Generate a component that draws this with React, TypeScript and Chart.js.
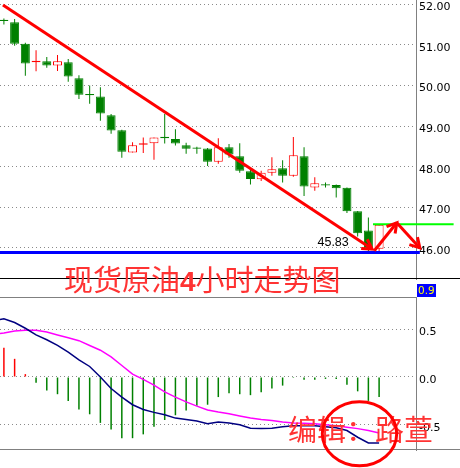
import React, { useEffect, useRef } from "react";
import { Chart, registerables } from "chart.js";

Chart.register(...registerables);

// ---------------- data ----------------
const OPEN = [51.62, 51.56, 51.03, 50.57, 50.60, 50.49, 50.57, 50.18, 49.79, 49.73, 49.27, 48.90, 48.35, 48.54, 48.58, 48.74, 48.68, 48.53, 48.47, 48.45, 48.12, 48.48, 48.26, 47.89, 47.69, 47.85, 47.96, 47.78, 48.26, 47.49, 47.57, 47.55, 47.48, 46.90, 46.43, 45.98];
const HIGH = [51.65, 51.64, 51.05, 50.87, 50.70, 50.75, 50.65, 50.25, 50.00, 49.96, 49.30, 48.91, 48.60, 48.72, 48.72, 49.30, 48.92, 48.59, 48.49, 48.46, 48.70, 48.56, 48.58, 47.95, 47.90, 48.23, 48.16, 48.73, 48.48, 47.74, 47.61, 47.56, 47.49, 46.91, 46.75, 46.59];
const LOW = [51.50, 50.98, 50.24, 50.35, 50.44, 50.36, 50.09, 49.67, 49.55, 49.13, 48.81, 48.22, 48.35, 48.34, 48.17, 48.57, 48.52, 48.32, 48.32, 48.02, 48.07, 48.22, 47.85, 47.56, 47.65, 47.78, 47.61, 47.75, 47.28, 47.41, 47.49, 47.24, 46.86, 46.28, 45.92, 45.85];
const CLOSE = [51.59, 51.03, 50.54, 50.61, 50.49, 50.60, 50.22, 49.77, 49.76, 49.31, 48.89, 48.37, 48.53, 48.58, 48.72, 48.70, 48.57, 48.44, 48.44, 48.12, 48.48, 48.30, 47.90, 47.70, 47.85, 47.94, 47.78, 48.28, 47.51, 47.59, 47.54, 47.47, 46.90, 46.36, 45.98, 46.57];

const PRICE_TICKS = [46, 47, 48, 49, 50, 51, 52];
const MACD_TICKS = [-0.5, 0, 0.5];

const MACD_HIST = [0.305, 0.19, 0.03, -0.06, -0.14, -0.18, -0.25, -0.34, -0.39, -0.48, -0.55, -0.64, -0.64, -0.60, -0.52, -0.45, -0.40, -0.35, -0.30, -0.29, -0.21, -0.17, -0.18, -0.19, -0.16, -0.12, -0.09, -0.01, -0.03, -0.03, -0.02, -0.02, -0.08, -0.15, -0.25, -0.21];
const MACD_DIF = [0.61, 0.57, 0.51, 0.44, 0.39, 0.33, 0.26, 0.18, 0.11, 0.0, -0.12, -0.21, -0.29, -0.34, -0.37, -0.395, -0.43, -0.445, -0.46, -0.49, -0.47, -0.48, -0.50, -0.535, -0.54, -0.535, -0.52, -0.51, -0.51, -0.51, -0.52, -0.53, -0.56, -0.63, -0.69, -0.69];
const MACD_DEA = [0.46, 0.48, 0.49, 0.49, 0.47, 0.44, 0.41, 0.38, 0.33, 0.28, 0.21, 0.12, 0.03, -0.025, -0.085, -0.155, -0.21, -0.26, -0.305, -0.345, -0.366, -0.384, -0.408, -0.43, -0.445, -0.455, -0.47, -0.48, -0.485, -0.49, -0.50, -0.51, -0.525, -0.54, -0.56, -0.585];
const DIF_AT_LEFT_EDGE = 0.60;
const DEA_AT_LEFT_EDGE = 0.455;

// annotations, in (bar index, price) units
const TREND_LINE = [[-0.09, 51.98], [34.35, 45.97]];
const UP_ARROW = [[34.55, 45.93], [36.65, 46.62]];
const DOWN_ARROW = [[36.65, 46.62], [38.8, 46.0]];
const SUPPORT_LINE = [[-0.4, 45.887], [38.8, 45.887]];
const LAST_PRICE_LINE = [[34.43, 46.58], [41.95, 46.58]];
const LOW_LABEL_TEXT = "45.83";
const LOW_LABEL_AT = [32.17, 46.047];

const TITLE = "现货原油4小时走势图";
const EDITOR = "编辑：路萱";
const MACD_MAX_LABEL = "0.9";

// ---------------- view settings ----------------
const X_MIN = -0.364;
const X_MAX = 38.442;
const PRICE_MIN = 45.234;
const PRICE_MAX = 52.106;
const MACD_MIN = -0.7636;
const MACD_MAX = 0.8368;

const GREEN = "#008000";
const RED = "#ff0000";
const GRID = "#8a8a8a";
const FRAME = "#808080";
const AXIS_FONT = { family: "DejaVu Sans", size: 11 };

const isUp = (i: number) => CLOSE[i] > OPEN[i];
const toXY = (pts: number[][]) => pts.map(([x, y]) => ({ x, y }));

const arrowPlugin = {
  id: "arrowHeads",
  afterDatasetsDraw(chart: any) {
    const ctx = chart.ctx;
    chart.data.datasets.forEach((ds: any, i: number) => {
      if (!ds.arrowHead) return;
      const pts = chart.getDatasetMeta(i).data;
      const a = pts[pts.length - 2];
      const b = pts[pts.length - 1];
      const ang = Math.atan2(b.y - a.y, b.x - a.x);
      const len = 11;
      const spread = Math.PI / 6;
      ctx.save();
      ctx.strokeStyle = ds.borderColor;
      ctx.lineWidth = 3;
      ctx.lineJoin = "miter";
      ctx.beginPath();
      ctx.moveTo(b.x - len * Math.cos(ang - spread), b.y - len * Math.sin(ang - spread));
      ctx.lineTo(b.x, b.y);
      ctx.lineTo(b.x - len * Math.cos(ang + spread), b.y - len * Math.sin(ang + spread));
      ctx.stroke();
      ctx.restore();
    });
  },
};

const priceDecor = {
  id: "priceDecor",
  afterDraw(chart: any) {
    const { ctx, chartArea, scales } = chart;
    ctx.save();
    ctx.strokeStyle = "#000000";
    ctx.lineWidth = 1;
    ctx.beginPath();
    ctx.moveTo(0, chartArea.bottom - 0.5);
    ctx.lineTo(chart.width, chartArea.bottom - 0.5);
    ctx.stroke();

    ctx.font = '12.5px "Liberation Sans", sans-serif';
    ctx.fillStyle = "#000000";
    ctx.textAlign = "right";
    ctx.textBaseline = "alphabetic";
    ctx.fillText(
      LOW_LABEL_TEXT,
      scales.x.getPixelForValue(LOW_LABEL_AT[0]),
      scales.y.getPixelForValue(LOW_LABEL_AT[1])
    );

    ctx.textAlign = "left";
    ctx.fillStyle = "#ff3333";
    let x = 64;
    const parts = TITLE.match(/[0-9]+|[^0-9]+/g) || [];
    for (const part of parts) {
      const digit = /^[0-9]+$/.test(part);
      ctx.font = digit ? 'bold 28px "Liberation Sans"' : '29px "Noto Sans CJK SC"';
      ctx.fillText(part, x, 291);
      x += ctx.measureText(part).width;
    }
    ctx.restore();
  },
};

const macdDecor = {
  id: "macdDecor",
  afterDraw(chart: any) {
    const { ctx, chartArea } = chart;
    ctx.save();
    ctx.strokeStyle = FRAME;
    ctx.lineWidth = 1;
    ctx.beginPath();
    ctx.moveTo(0, chartArea.top + 0.5);
    ctx.lineTo(chartArea.right, chartArea.top + 0.5);
    ctx.moveTo(0, chartArea.bottom - 0.5);
    ctx.lineTo(chart.width, chartArea.bottom - 0.5);
    ctx.stroke();

    // max value box
    ctx.font = '10.5px "DejaVu Sans"';
    const w = Math.ceil(ctx.measureText(MACD_MAX_LABEL).width) + 2;
    ctx.fillStyle = "#0000ff";
    ctx.fillRect(chartArea.right + 1, chartArea.top - 13, w, 13);
    ctx.fillStyle = "#ffff00";
    ctx.textAlign = "left";
    ctx.textBaseline = "middle";
    ctx.fillText(MACD_MAX_LABEL, chartArea.right + 2, chartArea.top - 6);

    // editor note
    ctx.fillStyle = "#ff3333";
    ctx.font = '29px "Noto Sans CJK SC"';
    ctx.textBaseline = "alphabetic";
    ctx.fillText(EDITOR, 288, 161);

    // hand drawn circle
    ctx.strokeStyle = RED;
    ctx.lineWidth = 3;
    ctx.beginPath();
    ctx.ellipse(359.5, 153.7, 37.2, 32, 0, 0, Math.PI * 2);
    ctx.stroke();
    ctx.restore();
  },
};

function yAxis(min: number, max: number, ticks: number[], digits: number, offset: number) {
  return {
    position: "right",
    min,
    max,
    afterBuildTicks: (s: any) => {
      s.ticks = ticks.map((v) => ({ value: v }));
    },
    afterFit: (s: any) => {
      s.width = 44;
      s.paddingTop = 0;
      s.paddingBottom = 0;
      s.paddingLeft = 0;
      s.paddingRight = 0;
    },
    ticks: {
      callback: (v: any) => Number(v).toFixed(digits),
      color: "#000000",
      font: AXIS_FONT,
      padding: 3,
      labelOffset: offset,
      autoSkip: false,
    },
    grid: { color: GRID, lineWidth: 1, drawTicks: false },
    border: { display: true, color: FRAME, width: 1, dash: [1, 3] },
  };
}

const xAxis = { type: "linear", min: X_MIN, max: X_MAX, display: false, offset: false };

function priceConfig(): any {
  return {
    type: "bar",
    data: {
      datasets: [
        {
          type: "line",
          data: toXY(TREND_LINE),
          borderColor: RED,
          borderWidth: 3,
          pointRadius: 0,
          clip: false,
          arrowHead: true,
          order: 0,
        },
        {
          type: "line",
          data: toXY(UP_ARROW),
          borderColor: RED,
          borderWidth: 3,
          pointRadius: 0,
          clip: false,
          arrowHead: true,
          order: 0,
        },
        {
          type: "line",
          data: toXY(DOWN_ARROW),
          borderColor: RED,
          borderWidth: 3,
          pointRadius: 0,
          clip: false,
          arrowHead: true,
          order: 0,
        },
        {
          type: "line",
          data: toXY(SUPPORT_LINE),
          borderColor: "#0000ff",
          borderWidth: 3,
          pointRadius: 0,
          clip: false,
          order: 1,
        },
        {
          type: "line",
          data: toXY(LAST_PRICE_LINE),
          borderColor: "#00ff00",
          borderWidth: 2,
          pointRadius: 0,
          clip: false,
          order: 1,
        },
        {
          type: "bar",
          data: OPEN.map((o, i) => ({ x: i, y: [o, CLOSE[i]] })),
          backgroundColor: (c: any) => (isUp(c.dataIndex) ? "#ffffff" : GREEN),
          borderColor: (c: any) => (isUp(c.dataIndex) ? RED : GREEN),
          borderWidth: 1,
          borderSkipped: false,
          barThickness: 9,
          inflateAmount: 0,
          grouped: false,
          order: 2,
        },
        {
          type: "bar",
          data: HIGH.map((h, i) => ({ x: i, y: [LOW[i], h] })),
          backgroundColor: (c: any) => (isUp(c.dataIndex) ? RED : GREEN),
          borderWidth: 0,
          barThickness: 1,
          inflateAmount: 0,
          grouped: false,
          order: 3,
        },
      ],
    },
    options: {
      animation: false,
      responsive: false,
      devicePixelRatio: 1,
      events: [],
      layout: { padding: { left: 0, right: 0, top: 0, bottom: 18 } },
      plugins: { legend: { display: false }, tooltip: { enabled: false } },
      scales: {
        x: xAxis,
        y: yAxis(PRICE_MIN, PRICE_MAX, PRICE_TICKS, 2, 3),
      },
    },
    plugins: [arrowPlugin, priceDecor],
  };
}

function macdConfig(): any {
  return {
    type: "bar",
    data: {
      datasets: [
        {
          type: "line",
          data: [{ x: X_MIN, y: DIF_AT_LEFT_EDGE }, ...MACD_DIF.map((v, i) => ({ x: i, y: v }))],
          borderColor: "#000080",
          borderWidth: 1.5,
          pointRadius: 0,
          order: 0,
        },
        {
          type: "line",
          data: [{ x: X_MIN, y: DEA_AT_LEFT_EDGE }, ...MACD_DEA.map((v, i) => ({ x: i, y: v }))],
          borderColor: "#ff00ff",
          borderWidth: 1.5,
          pointRadius: 0,
          order: 1,
        },
        {
          type: "bar",
          data: MACD_HIST.map((v, i) => ({ x: i, y: v })),
          backgroundColor: (c: any) => (MACD_HIST[c.dataIndex] >= 0 ? RED : GREEN),
          borderWidth: 0,
          barThickness: 1.5,
          inflateAmount: 0,
          grouped: false,
          order: 2,
        },
      ],
    },
    options: {
      animation: false,
      responsive: false,
      devicePixelRatio: 1,
      events: [],
      layout: { padding: { left: 0, right: 0, top: 17, bottom: 18 } },
      plugins: { legend: { display: false }, tooltip: { enabled: false } },
      scales: {
        x: xAxis,
        y: yAxis(MACD_MIN, MACD_MAX, MACD_TICKS, 1, 3),
      },
    },
    plugins: [macdDecor],
  };
}

export default function App() {
  const priceRef = useRef<HTMLCanvasElement>(null);
  const macdRef = useRef<HTMLCanvasElement>(null);

  useEffect(() => {
    const c1 = new Chart(priceRef.current as HTMLCanvasElement, priceConfig());
    const c2 = new Chart(macdRef.current as HTMLCanvasElement, macdConfig());
    return () => {
      c1.destroy();
      c2.destroy();
    };
  }, []);

  return (
    <div
      style={{
        position: "fixed",
        left: 0,
        top: 0,
        width: 460,
        height: 468,
        background: "#ffffff",
        overflow: "hidden",
      }}
    >
      <canvas
        ref={priceRef}
        width={460}
        height={297}
        style={{ position: "absolute", left: 0, top: 0, display: "block" }}
      />
      <canvas
        ref={macdRef}
        width={460}
        height={188}
        style={{ position: "absolute", left: 0, top: 280, display: "block" }}
      />
    </div>
  );
}
